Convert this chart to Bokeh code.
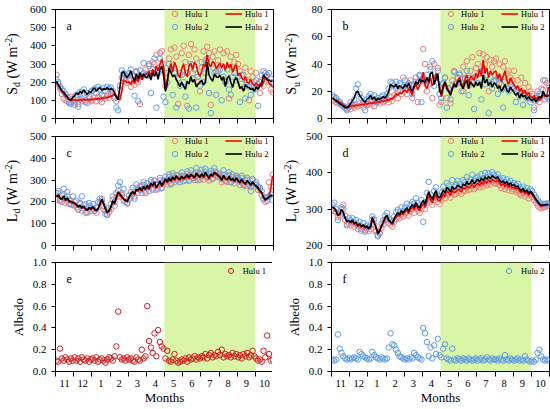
import numpy as np
from bokeh.plotting import figure
from bokeh.models import FixedTicker, BoxAnnotation, Label, Legend, LegendItem, Range1d
from bokeh.layouts import gridplot
from bokeh.embed import file_html
from bokeh.resources import INLINE

# ---------------- data ----------------
month_labels = ["11", "12", "1", "2", "3", "4", "5", "6", "7", "8", "9", "10"]
grow_start, grow_end = 6, 11          # growing season (May-Sep), months since 1 Nov
x_month = (np.arange(120) + 0.5) / 10.0   # 10 samples per month, Nov .. Oct

# (a) Sd
a_h1_pts = [240, 190, 165, 135, 110, 100, 95, 85, 120, 95,
            90, 110, 80, 105, 95, 115, 100, 85, 110, 95,
            100, 115, 95, 120, 105, 90, 125, 110, 130, 115,
            130, 140, 120, 95, 110, 160, 225, 240, 210, 195,
            210, 175, 240, 185, 260, 200, 80, 230, 250, 270,
            240, 290, 250, 310, 300, 350, 280, 360, 370, 300,
            180, 250, 330, 380, 300, 390, 340, 80, 250, 360,
            400, 310, 70, 350, 410, 250, 380, 330, 200, 150,
            280, 370, 320, 395, 360, 75, 340, 370, 260, 320,
            380, 290, 360, 200, 370, 110, 340, 280, 310, 350,
            300, 260, 240, 170, 280, 210, 100, 260, 230, 200,
            250, 190, 140, 210, 180, 250, 230, 200, 160, 145]
a_h2_pts = [215, 200, 175, 160, 150, 135, 120, 90, 80, 110,
            75, 130, 65, 145, 110, 160, 90, 140, 125, 150,
            155, 165, 140, 175, 160, 130, 170, 150, 175, 165,
            170, 150, 110, 60, 45, 180, 265, 250, 240, 230,
            250, 270, 235, 125, 255, 95, 265, 230, 305, 240,
            235, 300, 140, 270, 330, 60, 250, 330, 270, 120,
            90, 200, 300, 270, 130, 250, 60, 220, 180, 240,
            200, 120, 250, 55, 300, 220, 270, 60, 230, 180,
            310, 200, 250, 330, 140, 30, 280, 250, 130, 260,
            270, 100, 230, 200, 270, 160, 130, 230, 250, 210,
            230, 90, 190, 240, 110, 200, 175, 130, 180, 160,
            210, 70, 200, 240, 260, 230, 240, 250, 220, 200]
a_h1_line = [195, 182, 166, 150, 135, 122, 114, 108, 104, 102,
             100, 103, 99, 104, 101, 106, 102, 104, 100, 105,
             104, 108, 106, 110, 108, 113, 111, 116, 114, 120,
             122, 128, 132, 124, 112, 106, 150, 212, 205, 196,
             202, 188, 212, 192, 222, 200, 236, 214, 230, 242,
             246, 262, 232, 272, 250, 288, 262, 300, 328, 282,
             170, 215, 265, 300, 255, 310, 285, 240, 225, 275,
             300, 250, 230, 290, 305, 270, 310, 295, 250, 232,
             262, 300, 285, 350, 300, 285, 315, 305, 275, 290,
             305, 280, 300, 265, 310, 280, 300, 255, 285, 295,
             235, 250, 225, 210, 230, 200, 195, 215, 190, 180,
             195, 180, 190, 175, 200, 230, 215, 195, 185, 175]
a_h2_line = [205, 188, 170, 152, 145, 132, 118, 104, 100, 118,
             125, 140, 132, 150, 138, 158, 145, 132, 150, 142,
             160, 168, 150, 162, 170, 155, 165, 160, 170, 158,
             165, 160, 140, 118, 104, 175, 250, 258, 236, 225,
             242, 262, 228, 205, 245, 218, 252, 226, 246, 230,
             226, 246, 212, 252, 232, 258, 216, 270, 286, 235,
             150, 190, 278, 255, 230, 240, 215, 195, 175, 200,
             180, 160, 205, 190, 230, 200, 215, 175, 190, 200,
             210, 185, 200, 310, 240, 220, 205, 245, 230, 225,
             240, 210, 230, 175, 220, 235, 200, 170, 210, 225,
             200, 165, 175, 150, 185, 175, 170, 160, 165, 150,
             175, 160, 180, 195, 240, 225, 215, 210, 205, 205]

# (b) Su
b_h1_pts = [13, 14, 12, 11, 12, 10, 9, 8, 7, 8,
            7, 9, 8, 10, 9, 11, 10, 8, 11, 10,
            10, 12, 11, 9, 13, 12, 11, 14, 12, 13,
            14, 12, 16, 13, 17, 22, 15, 20, 18, 30,
            22, 18, 25, 28, 15, 24, 27, 12, 31, 28,
            51, 40, 20, 25, 38, 15, 40, 30, 37, 10,
            12, 25, 30, 15, 22, 11, 28, 35, 26, 30,
            33, 20, 38, 30, 42, 24, 35, 45, 30, 37,
            40, 48, 35, 47, 40, 45, 20, 43, 38, 42,
            44, 30, 40, 25, 38, 42, 33, 35, 30, 28,
            35, 20, 28, 22, 30, 18, 26, 15, 23, 20,
            18, 8, 15, 20, 12, 22, 28, 14, 26, 24]
b_h2_pts = [17, 16, 15, 13, 12, 10, 9, 8, 6, 9,
            12, 10, 14, 22, 25, 18, 15, 12, 6, 14,
            16, 18, 13, 17, 12, 15, 13, 16, 17, 14,
            18, 22, 27, 26, 24, 27, 20, 26, 25, 23,
            28, 24, 26, 21, 18, 25, 30, 26, 32, 12,
            30, 27, 32, 28, 36, 42, 24, 30, 35, 18,
            15, 26, 30, 8, 22, 14, 24, 34, 25, 30,
            32, 26, 20, 29, 35, 17, 30, 27, 7, 31,
            26, 33, 14, 36, 25, 32, 4, 30, 22, 28,
            28, 18, 26, 21, 8, 27, 22, 20, 25, 23,
            22, 12, 21, 16, 20, 10, 18, 15, 17, 12,
            14, 6, 13, 16, 18, 17, 21, 28, 16, 14]
b_h1_line = [15, 14, 13.5, 13, 12, 11, 10, 9, 8, 8.5,
             9, 9.5, 9, 10, 9.5, 10, 10.5, 10, 11, 10.5,
             11, 11.5, 11, 12, 11.5, 12.5, 12, 13, 12.5, 13,
             14, 13, 15, 14, 16, 18, 17, 19, 18, 20,
             21, 19, 22, 20, 17, 23, 25, 21, 24, 27,
             34, 24, 22, 26, 30, 24, 27, 33, 29, 24,
             16, 22, 26, 24, 20, 18, 22, 26, 24, 28,
             30, 26, 24, 29, 32, 25, 31, 30, 28, 33,
             30, 36, 31, 43, 33, 37, 30, 35, 32, 34,
             35, 29, 33, 27, 31, 35, 28, 25, 30, 27,
             25, 22, 24, 20, 22, 18, 21, 17, 19, 16,
             15, 17, 14, 16, 13, 15, 18, 16, 17, 23]
b_h2_line = [15, 14, 13, 12, 11, 10, 9, 8, 8, 9,
             11, 13, 15, 19, 20, 17, 15, 13, 12, 14,
             15, 17, 14, 16, 13, 15, 14, 15, 16, 15,
             17, 20, 25, 24, 23, 25, 22, 24, 23, 22,
             25, 23, 26, 22, 20, 24, 27, 25, 29, 27,
             28, 26, 30, 27, 33, 34, 25, 29, 33, 20,
             18, 24, 27, 22, 20, 17, 22, 25, 23, 27,
             28, 24, 22, 26, 28, 22, 27, 25, 23, 27,
             24, 27, 22, 32, 26, 29, 24, 27, 23, 26,
             25, 22, 24, 20, 22, 25, 21, 19, 23, 21,
             19, 17, 19, 15, 18, 16, 17, 14, 16, 14,
             13, 15, 12, 14, 16, 15, 20, 17, 16, 17]

# (c) Ld
c_h1_pts = [210, 240, 205, 200, 235, 195, 225, 190, 205, 185,
            200, 175, 165, 190, 160, 185, 150, 155, 180, 158,
            168, 158, 150, 175, 200, 215, 180, 160, 142, 152,
            168, 210, 182, 222, 250, 225, 232, 205, 215, 192,
            212, 245, 238, 225, 265, 242, 270, 240, 278, 248,
            262, 250, 290, 262, 298, 255, 282, 298, 262, 292,
            292, 280, 315, 285, 318, 290, 322, 298, 308, 320,
            295, 318, 328, 298, 330, 308, 300, 335, 312, 302,
            335, 302, 338, 310, 298, 330, 308, 340, 318, 325,
            320, 290, 325, 298, 292, 322, 290, 312, 285, 315,
            302, 278, 310, 280, 272, 302, 278, 268, 298, 270,
            278, 255, 258, 232, 212, 200, 222, 290, 270, 325]
c_h2_pts = [240, 250, 210, 230, 260, 215, 245, 210, 190, 225,
            185, 205, 165, 195, 225, 170, 190, 150, 195, 175,
            190, 160, 175, 200, 215, 205, 165, 145, 140, 170,
            190, 225, 200, 240, 275, 290, 240, 260, 200, 195,
            230, 220, 265, 215, 280, 260, 255, 275, 290, 240,
            285, 270, 300, 255, 298, 280, 260, 310, 265, 300,
            315, 298, 325, 280, 330, 310, 300, 322, 290, 335,
            318, 300, 340, 298, 345, 310, 325, 355, 300, 330,
            348, 322, 352, 315, 330, 342, 305, 355, 335, 315,
            330, 305, 345, 295, 320, 335, 290, 325, 300, 320,
            310, 292, 320, 275, 300, 310, 280, 250, 305, 285,
            290, 270, 265, 250, 215, 220, 205, 225, 235, 210]
c_h1_line = [222, 228, 215, 210, 225, 205, 215, 200, 198, 195,
             190, 185, 175, 182, 170, 178, 165, 160, 172, 165,
             175, 165, 158, 168, 190, 210, 190, 165, 150, 158,
             175, 200, 190, 215, 240, 232, 220, 212, 205, 200,
             220, 235, 245, 232, 255, 250, 262, 248, 268, 255,
             270, 258, 282, 270, 288, 262, 275, 290, 270, 285,
             300, 288, 305, 292, 310, 298, 315, 305, 300, 312,
             302, 310, 318, 305, 322, 315, 308, 325, 318, 310,
             325, 310, 330, 318, 305, 322, 315, 330, 325, 318,
             312, 298, 318, 305, 300, 315, 298, 305, 292, 308,
             296, 285, 302, 288, 280, 295, 285, 275, 290, 278,
             270, 262, 250, 240, 220, 208, 215, 225, 260, 320]
c_h2_line = [225, 232, 218, 212, 228, 208, 218, 205, 202, 198,
             195, 188, 178, 185, 172, 180, 168, 162, 175, 168,
             178, 168, 160, 170, 192, 212, 193, 168, 152, 160,
             178, 205, 195, 222, 245, 236, 224, 214, 208, 202,
             222, 238, 248, 236, 258, 254, 265, 252, 272, 258,
             275, 262, 286, 275, 292, 266, 280, 295, 275, 290,
             305, 292, 310, 297, 315, 302, 320, 308, 305, 318,
             308, 316, 325, 310, 328, 320, 312, 332, 322, 315,
             330, 315, 336, 322, 310, 328, 320, 336, 330, 322,
             316, 300, 322, 308, 302, 318, 300, 308, 295, 310,
             298, 288, 305, 290, 282, 298, 288, 278, 292, 280,
             272, 265, 252, 242, 222, 210, 215, 222, 228, 232]

# (d) Lu
d_h1_pts = [300, 295, 292, 278, 282, 300, 312, 270, 258, 262,
            255, 265, 252, 258, 245, 255, 240, 250, 242, 248,
            240, 245, 272, 258, 242, 228, 232, 248, 258, 270,
            275, 262, 258, 252, 265, 272, 280, 275, 285, 280,
            288, 292, 282, 295, 300, 290, 305, 296, 290, 302,
            310, 300, 318, 335, 320, 312, 325, 335, 320, 315,
            325, 338, 330, 345, 340, 332, 348, 340, 342, 350,
            348, 342, 352, 350, 360, 352, 356, 365, 355, 360,
            366, 360, 370, 362, 372, 366, 374, 368, 376, 372,
            370, 374, 366, 358, 364, 355, 362, 352, 360, 350,
            354, 348, 352, 342, 338, 346, 335, 342, 330, 338,
            334, 325, 318, 310, 305, 302, 305, 306, 308, 310]
d_h2_pts = [312, 318, 300, 270, 290, 305, 300, 282, 255, 275,
            270, 275, 262, 270, 255, 265, 245, 262, 238, 255,
            250, 258, 280, 272, 238, 225, 235, 260, 270, 282,
            290, 275, 270, 265, 280, 292, 298, 292, 305, 295,
            305, 315, 300, 312, 320, 315, 330, 318, 310, 325,
            265, 320, 345, 375, 340, 330, 350, 360, 340, 335,
            345, 362, 350, 372, 365, 355, 380, 362, 368, 378,
            370, 362, 380, 375, 388, 375, 382, 395, 378, 386,
            390, 382, 396, 385, 400, 388, 398, 390, 402, 395,
            390, 396, 385, 378, 385, 375, 382, 372, 378, 368,
            372, 366, 370, 360, 355, 362, 350, 358, 348, 355,
            350, 340, 332, 325, 318, 312, 315, 314, 316, 315]
d_h1_line = [305, 302, 295, 282, 285, 298, 290, 275, 265, 268,
             262, 268, 258, 262, 252, 258, 250, 255, 248, 252,
             245, 250, 275, 262, 248, 232, 238, 252, 262, 275,
             280, 268, 262, 258, 270, 278, 285, 280, 290, 285,
             292, 298, 288, 300, 305, 298, 310, 302, 296, 308,
             315, 305, 322, 338, 325, 318, 330, 340, 325, 322,
             330, 342, 335, 350, 345, 338, 352, 345, 348, 355,
             352, 348, 358, 355, 365, 358, 362, 370, 360, 366,
             372, 365, 375, 368, 378, 372, 380, 374, 382, 378,
             375, 380, 372, 365, 370, 362, 368, 360, 365, 358,
             360, 355, 358, 350, 345, 352, 342, 348, 338, 345,
             340, 332, 325, 318, 312, 308, 310, 310, 311, 312]
d_h2_line = [306, 303, 296, 283, 286, 299, 291, 276, 266, 269,
             264, 270, 260, 264, 254, 260, 252, 257, 250, 254,
             247, 252, 277, 264, 250, 234, 240, 254, 264, 277,
             283, 271, 265, 262, 274, 283, 290, 285, 296, 290,
             298, 304, 294, 306, 312, 305, 318, 309, 303, 316,
             324, 313, 332, 348, 335, 327, 340, 351, 334, 331,
             340, 352, 345, 360, 355, 348, 362, 355, 358, 366,
             362, 358, 369, 365, 376, 368, 372, 381, 370, 377,
             382, 375, 386, 378, 389, 382, 390, 384, 392, 388,
             384, 389, 380, 373, 378, 370, 376, 367, 372, 365,
             367, 361, 364, 356, 350, 357, 347, 353, 343, 349,
             344, 336, 328, 321, 315, 310, 312, 312, 313, 313]

# (e) albedo Hulu 1, (f) albedo Hulu 2
e_h1_alb = [0.10, 0.09, 0.21, 0.12, 0.10, 0.13, 0.11, 0.09, 0.12, 0.10,
            0.13, 0.10, 0.12, 0.09, 0.13, 0.11, 0.10, 0.12, 0.09, 0.11,
            0.12, 0.10, 0.13, 0.09, 0.11, 0.12, 0.10, 0.08, 0.11, 0.13,
            0.12, 0.10, 0.14, 0.23, 0.55, 0.13, 0.11, 0.12, 0.10, 0.13,
            0.11, 0.12, 0.10, 0.09, 0.13, 0.11, 0.10, 0.20, 0.12, 0.14,
            0.60, 0.28, 0.22, 0.17, 0.35, 0.14, 0.38, 0.27, 0.23, 0.21,
            0.12, 0.19, 0.10, 0.09, 0.11, 0.16, 0.10, 0.08, 0.09, 0.11,
            0.10, 0.12, 0.09, 0.13, 0.11, 0.12, 0.14, 0.11, 0.13, 0.12,
            0.14, 0.13, 0.16, 0.12, 0.15, 0.17, 0.13, 0.15, 0.14, 0.18,
            0.15, 0.20, 0.13, 0.16, 0.14, 0.15, 0.13, 0.17, 0.14, 0.16,
            0.13, 0.15, 0.12, 0.16, 0.14, 0.17, 0.13, 0.15, 0.19, 0.14,
            0.12, 0.10, 0.11, 0.09, 0.19, 0.13, 0.33, 0.16, 0.10, 0.11]
f_h2_alb = [0.11, 0.10, 0.11, 0.34, 0.21, 0.17, 0.14, 0.12, 0.11, 0.12,
            0.11, 0.12, 0.13, 0.12, 0.11, 0.18, 0.16, 0.14, 0.13, 0.12,
            0.11, 0.12, 0.18, 0.15, 0.13, 0.12, 0.11, 0.13, 0.12, 0.11,
            0.12, 0.22, 0.35, 0.25, 0.24, 0.20, 0.17, 0.14, 0.13, 0.12,
            0.11, 0.12, 0.11, 0.13, 0.12, 0.17, 0.15, 0.13, 0.12, 0.11,
            0.40, 0.35, 0.27, 0.14, 0.22, 0.12, 0.24, 0.16, 0.30, 0.15,
            0.13, 0.21, 0.25, 0.12, 0.11, 0.10, 0.21, 0.11, 0.10, 0.12,
            0.11, 0.10, 0.12, 0.11, 0.10, 0.12, 0.11, 0.10, 0.11, 0.12,
            0.10, 0.11, 0.12, 0.10, 0.11, 0.13, 0.11, 0.10, 0.12, 0.11,
            0.11, 0.10, 0.12, 0.11, 0.10, 0.15, 0.11, 0.10, 0.12, 0.11,
            0.10, 0.11, 0.12, 0.10, 0.11, 0.10, 0.14, 0.11, 0.10, 0.09,
            0.10, 0.09, 0.11, 0.17, 0.20, 0.14, 0.11, 0.10, 0.11, 0.10]

# ---------------- style ----------------
SERIF = "Liberation Serif"
FW, FH = 218, 109
TOPS = [9, 10, 9]
BOTTOMS = [8, 8, 37]
RED_PT, BLUE_PT = "#f07c7c", "#5f9ff0"
RED_E, BLUE_F = "#d41c1c", "#5b9be8"
GREEN = "#d9f5a6"


def panel(ymin, ymax, yticks, ylabels, row, col, letter):
    p = figure(frame_width=FW, frame_height=FH,
               x_range=Range1d(0, 12), y_range=Range1d(ymin, ymax),
               output_backend="svg", toolbar_location=None,
               min_border_top=TOPS[row], min_border_bottom=BOTTOMS[row],
               min_border_left=26 if col == 0 else 27,
               min_border_right=2 if col == 0 else 5)
    p.grid.visible = False
    p.outline_line_color = "black"
    p.outline_line_alpha = 1.0
    p.outline_line_width = 1
    p.add_layout(BoxAnnotation(left=grow_start, right=grow_end, fill_color=GREEN,
                               fill_alpha=1.0, line_color=None, level="underlay"))
    xa = p.xaxis[0]
    xa.minor_tick_in = 0
    xa.minor_tick_out = 5
    xa.minor_tick_line_color = "black"
    xa.major_tick_in = 0
    xa.axis_line_color = "black"
    if row == 2:
        xa.ticker = FixedTicker(ticks=[i + 0.5 for i in range(12)], minor_ticks=list(range(13)))
        xa.major_tick_out = 5
        xa.major_tick_line_color = None
        xa.major_label_overrides = {i + 0.5: month_labels[i] for i in range(12)}
        xa.major_label_text_font = SERIF
        xa.major_label_text_font_size = "10.5px"
        xa.major_label_text_color = "black"
        xa.major_label_standoff = 3
        xa.axis_label = "Months"
        xa.axis_label_text_font = SERIF
        xa.axis_label_text_font_size = "13px"
        xa.axis_label_text_font_style = "normal"
        xa.axis_label_text_color = "black"
        xa.axis_label_standoff = 0
    else:
        xa.ticker = FixedTicker(ticks=[], minor_ticks=list(range(13)))
        xa.major_tick_out = 0
        xa.major_label_standoff = 0
    ya = p.yaxis[0]
    ya.ticker = FixedTicker(ticks=yticks, minor_ticks=[])
    ya.major_label_overrides = {t: s for t, s in zip(yticks, ylabels)}
    ya.major_tick_in = 0
    ya.major_tick_out = 4
    ya.minor_tick_line_color = None
    ya.axis_line_color = "black"
    ya.major_label_text_font = SERIF
    ya.major_label_text_font_size = "11px"
    ya.major_label_text_color = "black"
    ya.major_label_standoff = 5
    p.add_layout(Label(x=11, y=FH - 16, x_units="screen", y_units="screen", text=letter,
                       text_font=SERIF, text_font_size="12px", text_color="black",
                       text_baseline="alphabetic"))
    return p


def label_fig(width, row, parts):
    # parts: (text, font px, advance along the label, x of the text centre line)
    p = figure(frame_width=width, frame_height=FH,
               x_range=Range1d(0, 1), y_range=Range1d(0, 1),
               x_axis_type=None, y_axis_type=None,
               output_backend="svg", toolbar_location=None,
               min_border_top=TOPS[row], min_border_bottom=BOTTOMS[row],
               min_border_left=0, min_border_right=0)
    p.outline_line_color = None
    total = sum(a for _, _, a, _ in parts)
    y = FH / 2 - total / 2
    for text, size, adv, cx in parts:
        p.add_layout(Label(x=cx, y=y, x_units="screen", y_units="screen",
                           text=text, angle=np.pi / 2, text_font=SERIF,
                           text_font_size=f"{size}px", text_color="black",
                           text_align="left", text_baseline="middle"))
        y += adv
    return p


def flux_label(main, sub, main_adv, cx):
    return [(main, 14, main_adv, cx), (sub, 10, 8.5, cx + 4.4), ("(W m", 14, 32.3, cx),
            ("-2", 10, 8.3, cx - 3.6), (")", 14, 4.7, cx)]


def legends(p, r_pts, r_lines):
    common = dict(background_fill_alpha=0, border_line_color=None,
                  label_text_font=SERIF, label_text_font_size="8.5px",
                  label_text_color="black", glyph_height=13, label_height=13,
                  spacing=-3, padding=0, margin=0)
    lg1 = Legend(items=[LegendItem(label="Hulu 1", renderers=[r_pts[0]]),
                        LegendItem(label="Hulu 2", renderers=[r_pts[1]])],
                 location=(113, FH - 24), glyph_width=13, label_standoff=4, **common)
    p.add_layout(lg1)
    lg2 = Legend(items=[LegendItem(label="Hulu 1", renderers=[r_lines[0]]),
                        LegendItem(label="Hulu 2", renderers=[r_lines[1]])],
                 location=(170, FH - 24), glyph_width=17, label_standoff=3, **common)
    p.add_layout(lg2)


def flux_panel(p, h1p, h2p, h1l, h2l):
    r1 = p.scatter(x_month, h1p, marker="circle", size=5.5, fill_color=None,
                   line_color=RED_PT, line_width=1)
    r2 = p.scatter(x_month, h2p, marker="circle", size=5.5, fill_color=None,
                   line_color=BLUE_PT, line_width=1)
    l1 = p.line(x_month, h1l, line_color="#ff0000", line_width=1.6)
    l2 = p.line(x_month, h2l, line_color="black", line_width=1.6)
    legends(p, [r1, r2], [l1, l2])


def single_legend(p, r, label):
    p.add_layout(Legend(items=[LegendItem(label=label, renderers=[r])],
                        location=(171, FH - 15), glyph_width=13, glyph_height=13,
                        label_height=13, label_standoff=6, background_fill_alpha=0,
                        border_line_color=None, label_text_font=SERIF,
                        label_text_color="black",
                        label_text_font_size="8.5px", padding=0, margin=0))


pa = panel(0, 600, [0, 100, 200, 300, 400, 500, 600],
           ["0", "100", "200", "300", "400", "500", "600"], 0, 0, "a")
flux_panel(pa, a_h1_pts, a_h2_pts, a_h1_line, a_h2_line)
la = label_fig(26, 0, flux_label("S", "d", 7.8, 11.9))

pb = panel(0, 80, [0, 20, 40, 60, 80], ["0", "20", "40", "60", "80"], 0, 1, "b")
flux_panel(pb, b_h1_pts, b_h2_pts, b_h1_line, b_h2_line)
lb = label_fig(27, 0, flux_label("S", "u", 7.8, 16.2))

pc = panel(0, 500, [0, 100, 200, 300, 400, 500],
           ["0", "100", "200", "300", "400", "500"], 1, 0, "c")
flux_panel(pc, c_h1_pts, c_h2_pts, c_h1_line, c_h2_line)
lc = label_fig(26, 1, flux_label("L", "d", 8.6, 11.9))

pd_ = panel(200, 500, [200, 300, 400, 500], ["200", "300", "400", "500"], 1, 1, "d")
flux_panel(pd_, d_h1_pts, d_h2_pts, d_h1_line, d_h2_line)
ld = label_fig(27, 1, flux_label("L", "u", 8.6, 16.0))

alb_ticks = [0.0, 0.2, 0.4, 0.6, 0.8, 1.0]
alb_labels = ["0.0", "0.2", "0.4", "0.6", "0.8", "1.0"]

pe = panel(0, 1, alb_ticks, alb_labels, 2, 0, "e")
re_ = pe.scatter(x_month, e_h1_alb, marker="circle", size=5.5, fill_color=None,
                 line_color=RED_E, line_width=1)
single_legend(pe, re_, "Hulu 1")
le = label_fig(26, 2, [("Albedo", 13, 38.3, 18.2)])

pf = panel(0, 1, alb_ticks, alb_labels, 2, 1, "f")
rf_ = pf.scatter(x_month, f_h2_alb, marker="circle", size=5.5, fill_color=None,
                 line_color=BLUE_F, line_width=1)
single_legend(pf, rf_, "Hulu 2")
lf = label_fig(27, 2, [("Albedo", 13, 38.3, 19.4)])

grid = gridplot([[la, pa, lb, pb], [lc, pc, ld, pd_], [le, pe, lf, pf]],
                toolbar_location=None)

open("out.html", "w").write(file_html(grid, INLINE))
